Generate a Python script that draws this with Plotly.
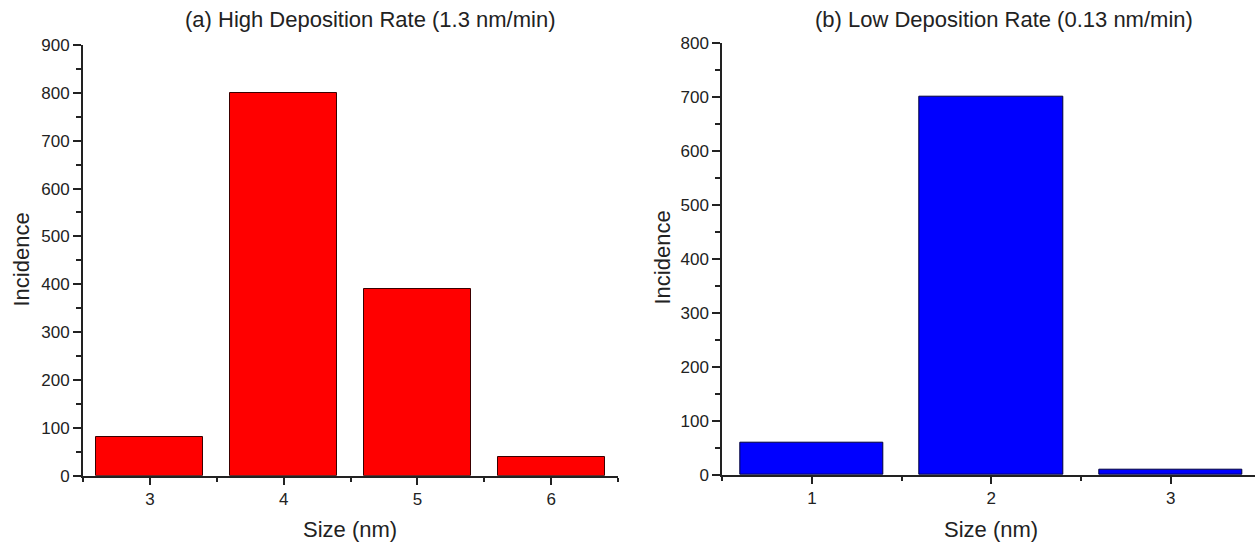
import plotly.graph_objects as go

# Data
sizes_a = [3, 4, 5, 6]
incidence_a = [80, 800, 390, 40]
sizes_b = [1, 2, 3]
incidence_b = [60, 700, 10]
title_a = "(a) High Deposition Rate (1.3 nm/min)"
title_b = "(b) Low Deposition Rate (0.13 nm/min)"
xlabel = "Size (nm)"
ylabel = "Incidence"

W, H = 1255, 546
FONT = "Liberation Sans, Arial, sans-serif"
AXC = "#222222"

fig = go.Figure()
fig.add_trace(go.Bar(x=sizes_a, y=incidence_a, width=0.8,
                     marker=dict(color="#ff0000", line=dict(color="#3a0000", width=1)),
                     xaxis="x", yaxis="y", showlegend=False))
fig.add_trace(go.Bar(x=sizes_b, y=incidence_b, width=0.8,
                     marker=dict(color="#0000ff", line=dict(color="#00003a", width=1)),
                     xaxis="x2", yaxis="y2", showlegend=False))

def xax(domain, rng, anchor):
    return dict(domain=domain, range=rng, anchor=anchor, tickmode="linear", tick0=1, dtick=1,
                automargin=False,
                showline=True, linecolor=AXC, linewidth=2, ticks="outside", ticklen=7,
                tickwidth=2, tickcolor=AXC, showgrid=False, zeroline=False,
                tickfont=dict(family=FONT, size=17, color="#222"),
                minor=dict(ticks="outside", ticklen=4, tickwidth=2, tickcolor=AXC, dtick=0.5, tick0=0.5, showgrid=False))

def yax(domain, rng, anchor):
    return dict(domain=domain, range=rng, anchor=anchor, tickmode="linear", tick0=0, dtick=100,
                automargin=False,
                showline=True, linecolor=AXC, linewidth=2, ticks="outside", ticklen=8,
                tickwidth=2, tickcolor=AXC, showgrid=False, zeroline=False,
                tickfont=dict(family=FONT, size=17, color="#222"),
                minor=dict(ticks="outside", ticklen=5, tickwidth=2, tickcolor=AXC, dtick=50, showgrid=False))

fig.update_layout(
    width=W, height=H, margin=dict(l=0, r=0, t=0, b=0, pad=0, autoexpand=False),
    paper_bgcolor="white", plot_bgcolor="white",
    xaxis=xax([83 / W, 618 / W], [2.5, 6.5], "y"),
    yaxis=yax([(H - 475.7) / H, (H - 45) / H], [0, 900], "x"),
    xaxis2=xax([722.3 / W, 1.0], [0.5, 3.47], "y2"),
    yaxis2=yax([(H - 475) / H, (H - 42.7) / H], [0, 800], "x2"),
    bargap=0,
)

ann_font = dict(family=FONT, size=22, color="#222")
anns = [
    dict(text=title_a, x=369.5 / W, y=1 - 20 / H),
    dict(text=title_b, x=1004 / W, y=1 - 20 / H),
    dict(text=xlabel, x=350 / W, y=1 - 529 / H),
    dict(text=xlabel, x=991 / W, y=1 - 529 / H),
    dict(text=ylabel, x=21 / W, y=1 - 259.5 / H, textangle=-90),
    dict(text=ylabel, x=662 / W, y=1 - 257.5 / H, textangle=-90),
]
for a in anns:
    fig.add_annotation(xref="paper", yref="paper", xanchor="center", yanchor="middle",
                       showarrow=False, font=ann_font, **a)

fig.write_html("out.html")
